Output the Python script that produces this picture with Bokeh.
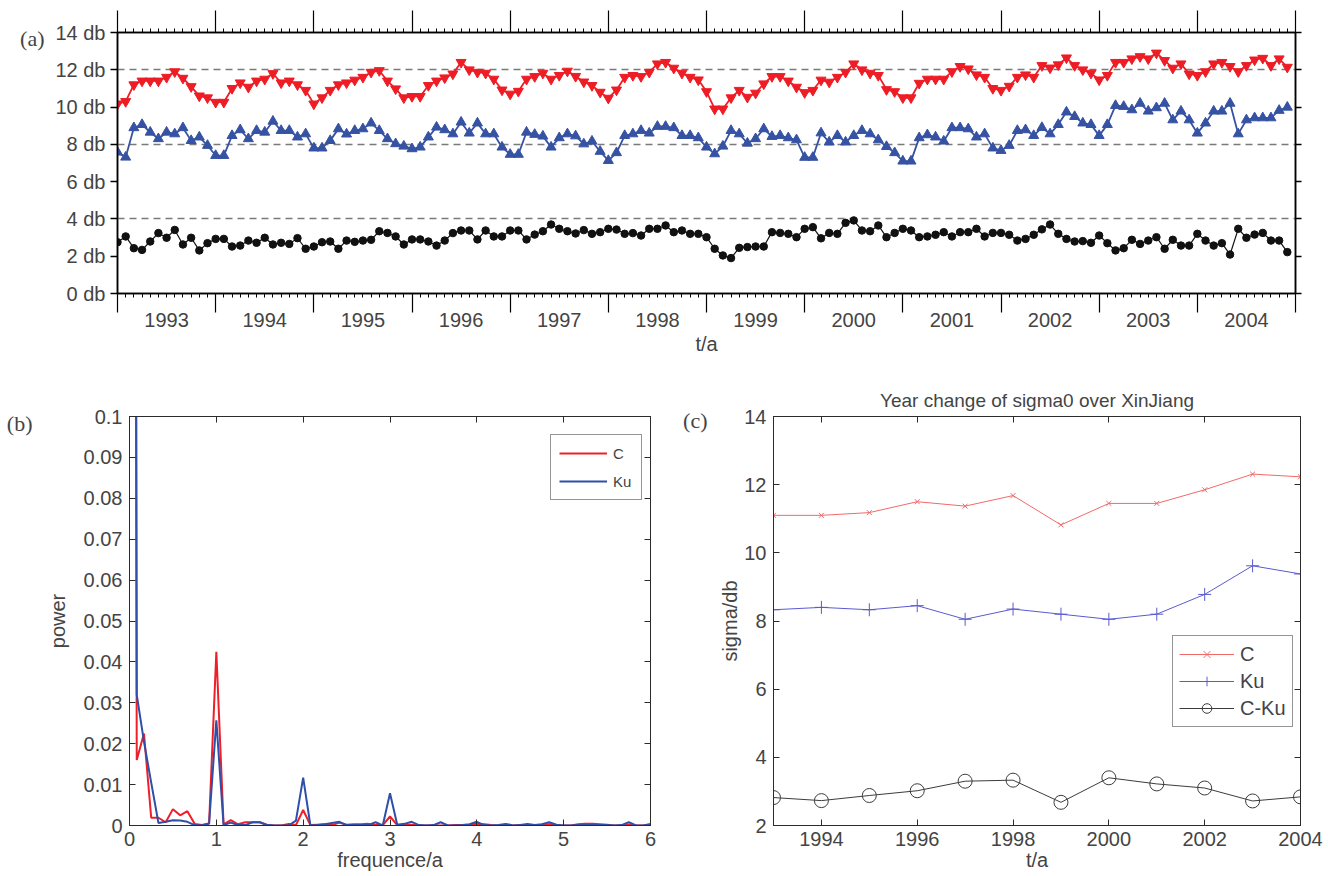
from bokeh.plotting import figure
from bokeh.models import Range1d, LinearAxis, FixedTicker, Grid
from bokeh.layouts import column, row
from bokeh.embed import file_html
from bokeh.resources import INLINE

# ---------------- data ----------------
start_year = 1993
year_labels = ["1993", "1994", "1995", "1996", "1997", "1998",
               "1999", "2000", "2001", "2002", "2003", "2004"]

# (a) monthly sigma0, Jan 1993 .. Dec 2004
sigma_c = [10.17, 10.3, 11.2, 11.4, 11.4, 11.4, 11.6, 11.9, 11.55, 11.1, 10.6, 10.5,
           10.26, 10.26, 11.0, 11.3, 11.07, 11.4, 11.5, 11.8, 11.3, 11.4, 11.2, 10.9,
           10.17, 10.5, 10.9, 11.2, 11.3, 11.45, 11.6, 11.87, 11.96, 11.4, 10.98, 10.5,
           10.57, 10.57, 11.16, 11.4, 11.57, 11.78, 12.4, 12.0, 11.87, 11.82, 11.5, 10.92,
           10.7, 10.85, 11.5, 11.64, 11.82, 11.5, 11.7, 11.93, 11.65, 11.35, 11.16, 10.8,
           10.48, 10.92, 11.6, 11.7, 11.64, 11.87, 12.32, 12.4, 12.09, 11.82, 11.6, 11.46,
           10.83, 9.9, 9.9, 10.5, 10.9, 10.53, 10.75, 11.25, 11.64, 11.64, 11.4, 11.07,
           10.78, 10.9, 11.45, 11.34, 11.6, 11.87, 12.32, 12.0, 11.82, 11.7, 10.94, 10.83,
           10.5, 10.5, 11.28, 11.5, 11.5, 11.5, 11.9, 12.18, 12.05, 11.73, 11.6, 11.0,
           10.9, 11.12, 11.6, 11.73, 11.6, 12.23, 12.1, 12.27, 12.64, 12.23, 12.0, 11.82,
           11.46, 11.7, 12.4, 12.4, 12.59, 12.71, 12.59, 12.9, 12.5, 12.09, 12.32, 11.78,
           11.7, 11.9, 12.32, 12.4, 12.18, 11.9, 12.23, 12.53, 12.62, 12.23, 12.59, 12.14]
sigma_ku = [7.58, 7.31, 8.89, 9.06, 8.65, 8.3, 8.65, 8.56, 8.89, 8.2, 8.39, 7.94,
            7.4, 7.4, 8.47, 8.78, 8.3, 8.74, 8.65, 9.24, 8.74, 8.74, 8.39, 8.56,
            7.8, 7.8, 8.2, 8.83, 8.55, 8.74, 8.83, 9.14, 8.74, 8.3, 8.03, 7.9,
            7.76, 7.85, 8.39, 8.92, 8.78, 8.56, 9.19, 8.6, 9.14, 8.56, 8.56, 7.85,
            7.46, 7.46, 8.65, 8.53, 8.44, 7.85, 8.35, 8.56, 8.45, 8.02, 8.17, 7.62,
            7.13, 7.55, 8.47, 8.56, 8.74, 8.6, 8.96, 8.96, 8.89, 8.47, 8.47, 8.35,
            7.85, 7.49, 7.9, 8.74, 8.56, 8.06, 8.3, 8.83, 8.42, 8.47, 8.35, 8.24,
            7.3, 7.3, 8.61, 8.12, 8.47, 8.12, 8.47, 8.74, 8.56, 8.24, 7.88, 7.55,
            7.1, 7.1, 8.35, 8.51, 8.39, 8.17, 8.89, 8.89, 8.83, 8.39, 8.56, 7.8,
            7.67, 7.94, 8.74, 8.78, 8.47, 8.9, 8.56, 9.06, 9.73, 9.49, 9.14, 9.06,
            8.47, 9.06, 10.08, 10.03, 9.85, 10.2, 9.78, 9.96, 10.2, 9.31, 9.78, 9.31,
            8.6, 9.14, 9.78, 9.78, 10.2, 8.56, 9.31, 9.42, 9.42, 9.42, 9.82, 9.99]
sigma_diff = [2.75, 3.06, 2.43, 2.34, 2.79, 3.24, 2.99, 3.41, 2.63, 2.99, 2.31, 2.7,
              2.93, 2.93, 2.52, 2.57, 2.84, 2.72, 2.99, 2.63, 2.72, 2.66, 2.97, 2.4,
              2.52, 2.75, 2.79, 2.4, 2.84, 2.77, 2.84, 2.88, 3.34, 3.25, 3.06, 2.63,
              2.9, 2.9, 2.79, 2.57, 2.84, 3.24, 3.38, 3.38, 2.9, 3.38, 3.06, 3.06,
              3.38, 3.38, 2.9, 3.16, 3.34, 3.7, 3.47, 3.34, 3.22, 3.4, 3.2, 3.29,
              3.47, 3.43, 3.2, 3.24, 3.11, 3.47, 3.47, 3.65, 3.29, 3.38, 3.2, 3.2,
              3.02, 2.4, 2.04, 1.9, 2.45, 2.49, 2.52, 2.52, 3.29, 3.25, 3.2, 3.02,
              3.47, 3.56, 2.96, 3.25, 3.2, 3.79, 3.92, 3.38, 3.34, 3.65, 3.02, 3.25,
              3.47, 3.38, 3.02, 3.06, 3.15, 3.29, 3.06, 3.29, 3.29, 3.47, 3.06, 3.25,
              3.25, 3.15, 2.84, 2.93, 3.15, 3.44, 3.7, 3.2, 2.93, 2.79, 2.81, 2.72,
              3.11, 2.7, 2.31, 2.43, 2.88, 2.66, 2.84, 3.02, 2.4, 2.88, 2.57, 2.57,
              3.2, 2.84, 2.57, 2.7, 2.09, 3.47, 2.99, 3.16, 3.25, 2.84, 2.84, 2.22]
db_ticks = [0, 2, 4, 6, 8, 10, 12, 14]
db_labels = ["0 db", "2 db", "4 db", "6 db", "8 db", "10 db", "12 db", "14 db"]
ref_levels = [4, 8, 12]

# (b) power spectrum, frequency k/12 per year, k = 0..72
power_c = [1.0, 0.016, 0.0225, 0.0019, 0.0019, 0.0008, 0.004, 0.0025, 0.0035, 0.0004,
           0.0001, 0.0005, 0.0425, 0.0003, 0.0013, 0.0003, 0.0008, 0.0008, 0.0008, 0.0002,
           0.0, 0.0, 0.0004, 0.0001, 0.0038, 0.0001, 0.0002, 0.0003, 0.0001, 0.0007,
           0.0002, 0.0003, 0.0003, 0.0004, 0.0001, 0.0001, 0.0022, 0.0001, 0.0002, 0.0002,
           0.0, 0.0, 0.0, 0.0, 0.0, 0.0001, 0.0001, 0.0002, 0.0004, 0.0003,
           0.0001, 0.0, 0.0001, 0.0, 0.0001, 0.0, 0.0, 0.0002, 0.0003, 0.0,
           0.0, 0.0, 0.0003, 0.0004, 0.0004, 0.0003, 0.0002, 0.0, 0.0, 0.0002,
           0.0, 0.0, 0.0001]
power_ku = [1.0, 0.032, 0.0205, 0.0105, 0.0006, 0.0009, 0.0013, 0.0012, 0.0009, 0.0001,
            0.0, 0.0005, 0.0257, 0.0001, 0.0007, 0.0001, 0.0001, 0.0008, 0.0008, 0.0001,
            0.0, 0.0, 0.0, 0.0012, 0.0117, 0.0, 0.0001, 0.0003, 0.0006, 0.0009,
            0.0001, 0.0001, 0.0001, 0.0001, 0.0008, 0.0, 0.0079, 0.0002, 0.0004, 0.0009,
            0.0001, 0.0, 0.0001, 0.0008, 0.0, 0.0, 0.0001, 0.0003, 0.0009, 0.0001,
            0.0, 0.0001, 0.0004, 0.0, 0.0001, 0.0004, 0.0001, 0.0003, 0.0008, 0.0002,
            0.0, 0.0, 0.0001, 0.0001, 0.0001, 0.0001, 0.0001, 0.0, 0.0001, 0.0008,
            0.0, 0.0, 0.0004]
freq_ticks = [0, 1, 2, 3, 4, 5, 6]
power_ticks = [0, 0.01, 0.02, 0.03, 0.04, 0.05, 0.06, 0.07, 0.08, 0.09, 0.1]
power_labels = ["0", "0.01", "0.02", "0.03", "0.04", "0.05", "0.06", "0.07", "0.08", "0.09", "0.1"]

# (c) annual means
annual_years = [1993, 1994, 1995, 1996, 1997, 1998, 1999, 2000, 2001, 2002, 2003, 2004]
annual_c = [11.1, 11.1, 11.18, 11.5, 11.37, 11.68, 10.82, 11.45, 11.45, 11.85, 12.31, 12.23]
annual_ku = [8.33, 8.4, 8.33, 8.45, 8.05, 8.35, 8.2, 8.05, 8.2, 8.78, 9.62, 9.38]
annual_diff = [2.82, 2.73, 2.88, 3.02, 3.3, 3.33, 2.68, 3.4, 3.22, 3.1, 2.72, 2.84]
c_year_ticks = [1994, 1996, 1998, 2000, 2002, 2004]
c_db_ticks = [2, 4, 6, 8, 10, 12, 14]

# ---------------- style ----------------
SANS = "Liberation Sans"
SERIF = "Liberation Serif"
RED_A, BLUE_A, BLACK_A = "#ee1c25", "#3652a3", "#111111"
RED_B, BLUE_B = "#ee2027", "#2f4fa8"
RED_C, BLUE_C, GREY_C = "#f06a6a", "#5a5ad0", "#3c3c3c"
AX_COL = "#2b2b2b"


def no_labels(ax, ticks):
    ax.major_label_overrides = {v: "" for v in ticks}
    ax.major_label_text_color = None
    ax.major_label_text_font_size = "1px"
    ax.major_label_standoff = 0


def panel_tag(p, text, y_pos, standoff):
    # panel letter drawn as the single label of an extra, line-less left axis
    ax = LinearAxis(ticker=FixedTicker(ticks=[y_pos]), major_label_overrides={y_pos: text},
                    axis_line_color=None, major_tick_line_color=None, minor_tick_line_color=None,
                    major_tick_in=0, major_tick_out=0, major_label_standoff=standoff,
                    major_label_text_font=SERIF, major_label_text_font_size="22px")
    p.add_layout(ax, "left")


# ---------------- panel (a) ----------------
n_months = len(sigma_c)
t_month = [start_year + i / 12 for i in range(n_months)]
year_bounds = [start_year + k for k in range(len(year_labels) + 1)]
month_ticks = [start_year + m / 12 for m in range(n_months + 1)]
mid_years = [start_year + k + 0.5 for k in range(len(year_labels))]

pa = figure(width=1328, height=376, x_range=Range1d(year_bounds[0], year_bounds[-1]),
            y_range=Range1d(0, 14), output_backend="svg", toolbar_location=None,
            x_axis_location=None, y_axis_location=None,
            min_border_left=117, min_border_right=33, min_border_top=32, min_border_bottom=83)
pa.outline_line_color = "black"
pa.outline_line_width = 1.5
for g in pa.grid:
    g.visible = False
pa.add_layout(Grid(dimension=1, ticker=FixedTicker(ticks=ref_levels), grid_line_color="#7a7a7a",
                   grid_line_width=1.6, grid_line_dash="7 5"))

ax_tick_b = LinearAxis(ticker=FixedTicker(ticks=year_bounds, minor_ticks=month_ticks),
                       major_tick_out=19, major_tick_in=0, minor_tick_out=4, minor_tick_in=0,
                       axis_line_width=1.5, major_tick_line_width=1.2, minor_tick_line_width=1)
no_labels(ax_tick_b, year_bounds)
pa.add_layout(ax_tick_b, "below")
ax_lab_b = LinearAxis(ticker=FixedTicker(ticks=mid_years), major_tick_out=0, major_tick_in=0,
                      minor_tick_out=0, minor_tick_in=0, axis_line_color=None,
                      major_tick_line_color=None, minor_tick_line_color=None,
                      major_label_overrides={y: lab for y, lab in zip(mid_years, year_labels)},
                      major_label_standoff=0, major_label_text_font=SANS,
                      major_label_text_font_size="20px", axis_label="t/a",
                      axis_label_text_font=SANS, axis_label_text_font_size="20px",
                      axis_label_text_font_style="normal", axis_label_standoff=3)
pa.add_layout(ax_lab_b, "below")
ax_top = LinearAxis(ticker=FixedTicker(ticks=year_bounds, minor_ticks=month_ticks),
                    major_tick_out=22, major_tick_in=0, minor_tick_out=4, minor_tick_in=0,
                    axis_line_width=1.5, major_tick_line_width=1.2)
no_labels(ax_top, year_bounds)
pa.add_layout(ax_top, "above")
ax_left = LinearAxis(ticker=FixedTicker(ticks=db_ticks), major_tick_out=7, major_tick_in=0,
                     minor_tick_line_color=None, axis_line_width=1.5, major_tick_line_width=1.5,
                     major_label_overrides={v: s for v, s in zip(db_ticks, db_labels)},
                     major_label_text_font=SANS, major_label_text_font_size="20px",
                     major_label_standoff=5)
pa.add_layout(ax_left, "left")
panel_tag(pa, "(a)", 13.68, 8)
ax_right = LinearAxis(ticker=FixedTicker(ticks=db_ticks), major_tick_out=6, major_tick_in=0,
                      minor_tick_line_color=None, axis_line_width=1.5, major_tick_line_width=1.5)
no_labels(ax_right, db_ticks)
pa.add_layout(ax_right, "right")

pa.line(t_month, sigma_c, color=RED_A, line_width=1.8)
pa.scatter(t_month, sigma_c, marker="inverted_triangle", size=10, color=RED_A)
pa.line(t_month, sigma_ku, color=BLUE_A, line_width=1.8)
pa.scatter(t_month, sigma_ku, marker="triangle", size=10, color=BLUE_A)
pa.line(t_month, sigma_diff, color=BLACK_A, line_width=1.2)
pa.scatter(t_month, sigma_diff, marker="circle", size=7.5, color=BLACK_A)

# ---------------- panel (b) ----------------
freq = [k / 12 for k in range(len(power_c))]
pb = figure(width=660, height=500, x_range=Range1d(0, 6), y_range=Range1d(0, 0.1),
            output_backend="svg", toolbar_location=None,
            x_axis_location=None, y_axis_location=None,
            min_border_left=129, min_border_right=10, min_border_top=37, min_border_bottom=51)
pb.outline_line_color = AX_COL
pb.outline_line_width = 1
for g in pb.grid:
    g.visible = False


def matlab_axis(p, ticks, side, labels=None, font_size="20px", label=None, standoff=7,
                label_standoff=4):
    ax = LinearAxis(ticker=FixedTicker(ticks=ticks), major_tick_in=6, major_tick_out=0,
                    minor_tick_line_color=None, axis_line_color=AX_COL, major_tick_line_color=AX_COL,
                    axis_line_width=1, major_label_text_font=SANS,
                    major_label_text_font_size=font_size, major_label_standoff=standoff)
    if labels is None:
        no_labels(ax, ticks)
    else:
        ax.major_label_overrides = {v: s for v, s in zip(ticks, labels)}
    if label is not None:
        ax.axis_label = label
        ax.axis_label_text_font = SANS
        ax.axis_label_text_font_size = "20px"
        ax.axis_label_text_font_style = "normal"
        ax.axis_label_standoff = label_standoff
    p.add_layout(ax, side)
    return ax


matlab_axis(pb, freq_ticks, "below", [str(v) for v in freq_ticks], label="frequence/a",
            standoff=6, label_standoff=0)
matlab_axis(pb, freq_ticks, "above")
matlab_axis(pb, power_ticks, "left", power_labels, label="power", standoff=7, label_standoff=12)
panel_tag(pb, "(b)", 0.0983, 11)
matlab_axis(pb, power_ticks, "right")

pb.line(freq, power_c, color=RED_B, line_width=2, legend_label="C")
pb.line(freq, power_ku, color=BLUE_B, line_width=2, legend_label="Ku")
lb = pb.legend[0]
lb.location = (421, 325)
lb.label_text_font = SANS
lb.label_text_font_size = "15px"
lb.glyph_width = 48
lb.glyph_height = 20
lb.label_height = 20
lb.spacing = 8
lb.padding = 8
lb.margin = 0
lb.border_line_color = AX_COL
lb.border_line_width = 1
lb.label_standoff = 6

# ---------------- panel (c) ----------------
pc = figure(width=668, height=500, x_range=Range1d(1993, 2004), y_range=Range1d(2, 14),
            output_backend="svg", toolbar_location=None,
            x_axis_location=None, y_axis_location=None,
            min_border_left=113, min_border_right=28, min_border_top=40, min_border_bottom=51,
            title="Year change of sigma0 over XinJiang")
pc.title.align = "center"
pc.title.text_font = SANS
pc.title.text_font_size = "19px"
pc.title.text_font_style = "normal"
pc.title.standoff = 12
pc.outline_line_color = AX_COL
pc.outline_line_width = 1
for g in pc.grid:
    g.visible = False

matlab_axis(pc, c_year_ticks, "below", [str(v) for v in c_year_ticks], font_size="20px",
            label="t/a", standoff=6, label_standoff=0)
matlab_axis(pc, c_year_ticks, "above")
matlab_axis(pc, c_db_ticks, "left", [str(v) for v in c_db_ticks], font_size="20px",
            label="sigma/db", standoff=7, label_standoff=0)
panel_tag(pc, "(c)", 13.88, 9)
matlab_axis(pc, c_db_ticks, "right")

pc.line(annual_years, annual_c, color=RED_C, line_width=1, legend_label="C")
pc.scatter(annual_years, annual_c, marker="x", size=7, line_color=RED_C, line_width=1,
           legend_label="C")
pc.line(annual_years, annual_ku, color=BLUE_C, line_width=1, legend_label="Ku")
pc.scatter(annual_years, annual_ku, marker="cross", size=13, line_color=BLUE_C, line_width=1,
           legend_label="Ku")
pc.line(annual_years, annual_diff, color=GREY_C, line_width=1, legend_label="C-Ku")
pc.scatter(annual_years, annual_diff, marker="circle", size=14, line_color=GREY_C,
           fill_color=None, line_width=1, legend_label="C-Ku")
lc = pc.legend[0]
lc.location = (399, 98)
lc.label_text_font = SANS
lc.label_text_font_size = "20px"
lc.glyph_width = 55
lc.glyph_height = 24
lc.label_height = 24
lc.spacing = 3
lc.padding = 6
lc.margin = 0
lc.label_standoff = 6
lc.border_line_color = AX_COL
lc.border_line_width = 1

layout = column(pa, row(pb, pc, spacing=0), spacing=0)
open("out.html", "w").write(file_html(layout, INLINE))
